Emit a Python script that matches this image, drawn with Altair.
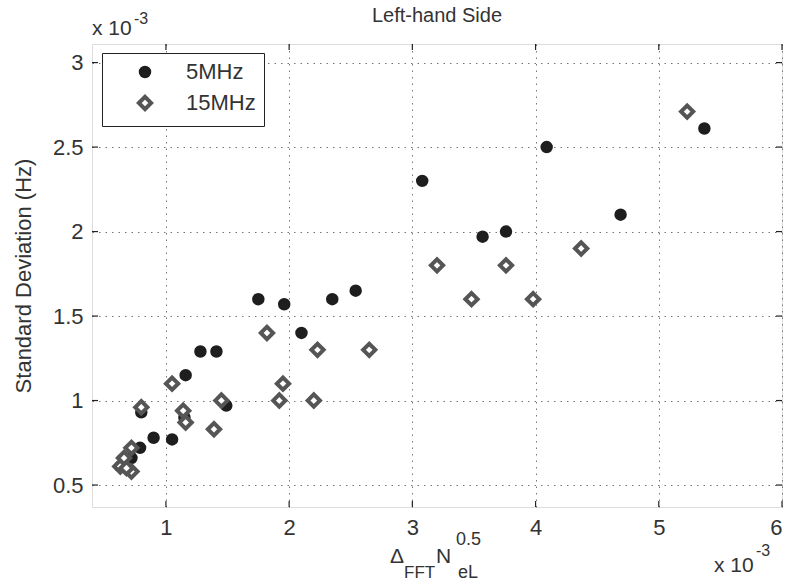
import altair as alt
import pandas as pd

# ---- data (units of 1e-3) ----
x_5mhz = [0.63, 0.70, 0.72, 0.79, 0.90, 1.05, 0.80, 1.15, 1.16, 1.49, 1.28, 1.41,
          1.75, 1.96, 2.10, 2.35, 2.54, 3.08, 3.57, 3.76, 4.09, 4.69, 5.37]
y_5mhz = [0.61, 0.59, 0.66, 0.72, 0.78, 0.77, 0.93, 0.90, 1.15, 0.97, 1.29, 1.29,
          1.60, 1.57, 1.40, 1.60, 1.65, 2.30, 1.97, 2.00, 2.50, 2.10, 2.61]
x_15mhz = [0.63, 0.66, 0.72, 0.72, 0.68, 0.80, 1.05, 1.14, 1.16, 1.39, 1.45, 1.82,
           1.92, 1.95, 2.20, 2.23, 2.65, 3.20, 3.48, 3.76, 3.98, 4.37, 5.23]
y_15mhz = [0.61, 0.66, 0.72, 0.58, 0.60, 0.96, 1.10, 0.94, 0.87, 0.83, 1.00, 1.40,
           1.00, 1.10, 1.00, 1.30, 1.30, 1.80, 1.60, 1.80, 1.60, 1.90, 2.71]
series_names = ["5MHz", "15MHz"]
x_ticks = [1, 2, 3, 4, 5, 6]
y_ticks = [0.5, 1, 1.5, 2, 2.5, 3]

df = pd.DataFrame({
    "x": x_5mhz + x_15mhz,
    "y": y_5mhz + y_15mhz,
    "series": [series_names[0]] * len(x_5mhz) + [series_names[1]] * len(x_15mhz),
})
xt = pd.DataFrame({"v": x_ticks})
yt = pd.DataFrame({"v": y_ticks})

W, H = 690, 463
FONT = "Liberation Sans"
TXT = "#333333"
xs = alt.Scale(domain=[0.4, 6], nice=False, zero=False)
ys = alt.Scale(domain=[0.37, 3.11], nice=False, zero=False)

legend = alt.Legend(
    title=None, orient="none", legendX=10, legendY=9, padding=8,
    strokeColor="#222222", fillColor="white", labelFont=FONT, labelFontSize=22,
    labelColor=TXT, symbolOffset=24, labelOffset=30, rowPadding=5,
)

points = alt.Chart(df).mark_point(filled=True, opacity=1).encode(
    x=alt.X("x:Q", scale=xs, axis=alt.Axis(
        values=x_ticks, format="~g", grid=True, ticks=False, domain=False,
        labelFont=FONT, labelFontSize=22, labelColor=TXT, labelPadding=10,
        gridColor="#777777", gridDash=[1.5, 5], gridWidth=1, title=None)),
    y=alt.Y("y:Q", scale=ys, axis=alt.Axis(
        values=y_ticks, format="~g", grid=True, ticks=False, domain=False,
        labelFont=FONT, labelFontSize=22, labelColor=TXT, labelPadding=9,
        gridColor="#777777", gridDash=[1.5, 5], gridWidth=1,
        title="Standard Deviation (Hz)", titleFont=FONT, titleFontSize=22,
        titleFontWeight="normal", titleColor=TXT, titlePadding=17)),
    shape=alt.Shape("series:N", scale=alt.Scale(domain=series_names, range=["circle", "diamond"]), legend=legend),
    fill=alt.Fill("series:N", scale=alt.Scale(domain=series_names, range=["#1e1e1e", "white"])),
    stroke=alt.Stroke("series:N", scale=alt.Scale(domain=series_names, range=["#1e1e1e", "#555555"])),
    size=alt.Size("series:N", scale=alt.Scale(domain=series_names, range=[110, 150])),
    strokeWidth=alt.StrokeWidth("series:N", scale=alt.Scale(domain=series_names, range=[2, 4])),
)

tick_color = "#222222"
xb = alt.Chart(xt).mark_rule(color=tick_color, strokeWidth=1.2).encode(
    x=alt.X("v:Q", scale=xs), y=alt.value(H), y2=alt.value(H - 6))
xtp = alt.Chart(xt).mark_rule(color=tick_color, strokeWidth=1.2).encode(
    x=alt.X("v:Q", scale=xs), y=alt.value(0), y2=alt.value(6))
yl = alt.Chart(yt).mark_rule(color=tick_color, strokeWidth=1.2).encode(
    y=alt.Y("v:Q", scale=ys), x=alt.value(0), x2=alt.value(6))
yr = alt.Chart(yt).mark_rule(color=tick_color, strokeWidth=1.2).encode(
    y=alt.Y("v:Q", scale=ys), x=alt.value(W), x2=alt.value(W - 6))


def txt(s, x, y, size, align="left"):
    return alt.Chart(pd.DataFrame({"t": [s]})).mark_text(
        font=FONT, fontSize=size, color=TXT, align=align, baseline="alphabetic"
    ).encode(text="t:N", x=alt.value(x), y=alt.value(y))


annots = [
    txt("Left-hand Side", W / 2, -22, 20, align="center"),
    txt("x 10", 0, -9, 21), txt("-3", 42, -20, 16),
    txt("x 10", 622, 528, 21), txt("-3", 664, 512, 16),
    txt("Δ", 298, 519, 21), txt("FFT", 312, 534, 17),
    txt("N", 344, 519, 21), txt("0.5", 364, 501, 18), txt("eL", 366, 534, 18),
]

chart = alt.layer(points, xb, xtp, yl, yr, *annots).properties(
    width=W, height=H,
    autosize=alt.AutoSizeParams(type="none"),
    padding={"left": 92, "top": 44, "right": 9, "bottom": 78},
).configure_view(stroke="#222222", strokeWidth=1.3).configure(background="white")

chart.save("out.html", embed_options={"renderer": "svg", "actions": False})
